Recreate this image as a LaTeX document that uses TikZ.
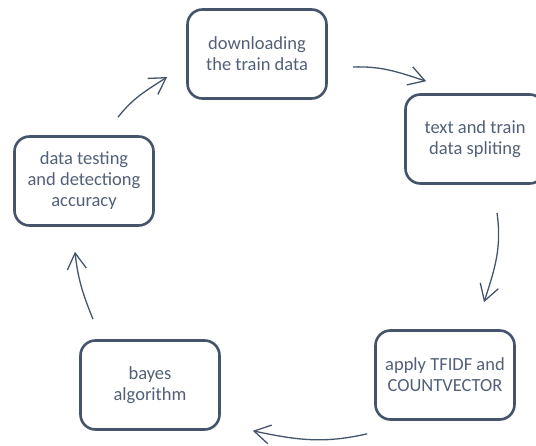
\documentclass[tikz,border=0pt]{standalone}
\usepackage{fontspec}
\setmainfont{Carlito}
\usetikzlibrary{arrows.meta}
\definecolor{slate}{HTML}{44546A}
\definecolor{slatetext}{HTML}{526178}

\begin{document}
\begin{tikzpicture}[x=1pt,y=1pt,
        box/.style={draw=slate, line width=2.6pt, rounded corners=15pt, fill=white,
            minimum width=139pt, minimum height=89pt, align=center, text=slatetext,
            font=\fontsize{18.5}{21}\selectfont},
        arr/.style={draw=slate, line width=1.3pt,
            -{Straight Barb[length=16pt,width=19pt,line width=1.3pt]}}]
                \useasboundingbox (0,0) rectangle (536,445);
                \node[box] (n_1) at (257,391) {downloading\\the train data};
                \node[box] (n_2) at (475,306) {text and train\\data spliting};
                \node[box] (n_3) at (445,70)  {apply TFIDF and\\COUNTVECTOR};
                \node[box] (n_4) at (150,60)  {bayes\\algorithm};
                \node[box] (n_5) at (84,264)  {data testing\\and detectiong\\accuracy};
                \draw[arr] ([xshift=25pt,yshift=-13pt]n_1.east)
                        to[out=2,in=162] ([xshift=22pt,yshift=12pt]n_2.north west);
                \draw[arr] ([xshift=22pt,yshift=-28pt]n_2.south)
                        to[out=-82,in=72] ([xshift=39pt,yshift=27pt]n_3.north);
                \draw[arr] ([xshift=-7pt,yshift=-13pt]n_3.south west)
                        to[out=193,in=-12] ([xshift=32pt]n_4.south east);
                \draw[arr] ([xshift=-57pt,yshift=20pt]n_4.north)
                        to[out=112,in=-84] ([xshift=-9pt,yshift=-25pt]n_5.south);
                \draw[arr] ([xshift=34pt,yshift=18pt]n_5.north)
                        to[out=52,in=213] ([xshift=-19pt,yshift=-23pt]n_1.west);
            \end{tikzpicture}
\end{document}
